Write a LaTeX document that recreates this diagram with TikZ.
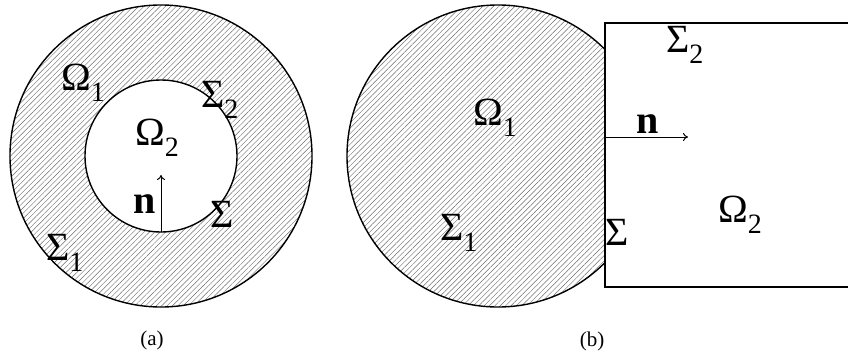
\documentclass[tikz,border=0pt]{standalone}
\usepackage{fontspec}
\setmainfont{Liberation Serif}
\usetikzlibrary{arrows.meta,patterns.meta}

\newcommand\lowidx[1]{\raisebox{-0.28em}{\fontsize{28}{28}\selectfont #1}}

\tikzset{
  lbl/.style={font=\fontsize{40}{44}\selectfont, inner sep=0pt, anchor=base west},
  subcap/.style={font=\fontsize{21}{24}\selectfont, inner sep=0pt, anchor=base},
  hatch/.style={pattern={Lines[angle=45,distance=3.8pt,line width=0.45pt]}, pattern color=gray!85!black},
}

\begin{document}
\begin{tikzpicture}[x=1pt,y=1pt,>={To[length=5pt,width=8pt]}]
  \useasboundingbox (0,0) rectangle (848,360);
  % (a)
  \coordinate (O) at (161,204);
  \fill[hatch,even odd rule] (O) circle(151) (O) circle(76);
  \draw[line width=1.4pt] (O) circle(151);
  \draw[line width=1.4pt] (O) circle(76);
  \coordinate (P) at (161,128);
  \coordinate (Q) at (161,185);
  \draw[->,line width=1pt] (P)--(Q);
  \node[lbl] (om1) at (61,270) {Ω\lowidx{1}};
  \node[lbl] (sg2) at (201,253) {Σ\lowidx{2}};
  \node[lbl] (om2) at (135,215) {Ω\lowidx{2}};
  \node[lbl] (n) at (133,147) {\textbf{n}};
  \node[lbl] (sg) at (210,133) {Σ};
  \node[lbl] (sg1) at (46,100) {Σ\lowidx{1}};
  \node[subcap] (a) at (152,15) {(a)};
  % (b)
  \coordinate (C) at (498,204);
  \begin{scope}
    \clip (300,0) rectangle (605,360);
    \fill[hatch] (C) circle(151);
    \draw[line width=1.4pt] (C) circle(151);
  \end{scope}
  \draw[line width=1.4pt] (850,73)--(605,73)--(605,337)--(850,337);
  \coordinate (R) at (605,223);
  \coordinate (S) at (688,223);
  \draw[->,line width=1pt] (R)--(S);
  \node[lbl] (om1b) at (473,235) {Ω\lowidx{1}};
  \node[lbl] (sg2b) at (666,308) {Σ\lowidx{2}};
  \node[lbl] (nb) at (636,227) {\textbf{n}};
  \node[lbl] (om2b) at (718,138) {Ω\lowidx{2}};
  \node[lbl] (sg1b) at (440,120) {Σ\lowidx{1}};
  \node[lbl] (sgb) at (605,115) {Σ};
  \node[subcap] (b) at (592,14) {(b)};
\end{tikzpicture}
\end{document}
